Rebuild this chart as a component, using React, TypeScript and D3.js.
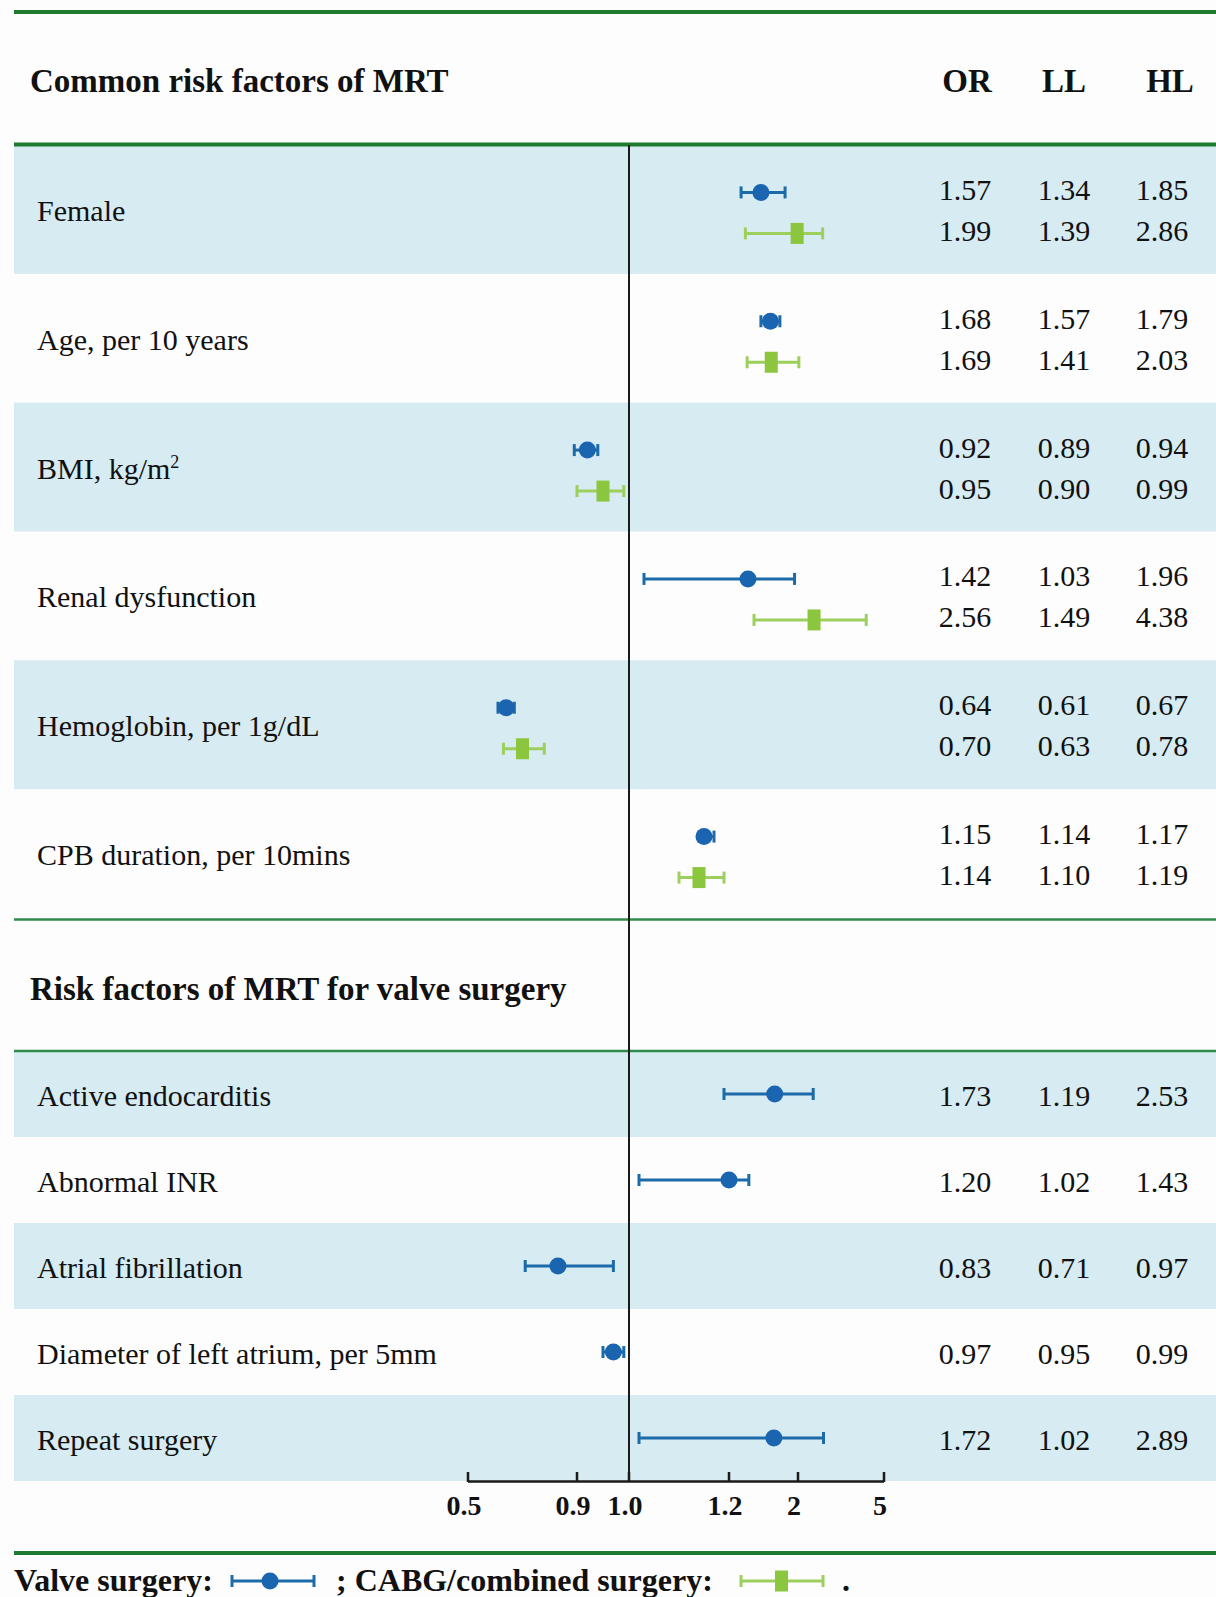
import React from "react";
import * as d3 from "d3";

// ---------- data ----------
const commonFactors = [
  "Female",
  "Age, per 10 years",
  "BMI, kg/m|2",
  "Renal dysfunction",
  "Hemoglobin, per 1g/dL",
  "CPB duration, per 10mins",
];
const valveOR = [1.57, 1.68, 0.92, 1.42, 0.64, 1.15];
const valveLL = [1.34, 1.57, 0.89, 1.03, 0.61, 1.14];
const valveHL = [1.85, 1.79, 0.94, 1.96, 0.67, 1.17];
const cabgOR = [1.99, 1.69, 0.95, 2.56, 0.7, 1.14];
const cabgLL = [1.39, 1.41, 0.9, 1.49, 0.63, 1.1];
const cabgHL = [2.86, 2.03, 0.99, 4.38, 0.78, 1.19];

const valveFactors = [
  "Active endocarditis",
  "Abnormal INR",
  "Atrial fibrillation",
  "Diameter of left atrium, per 5mm",
  "Repeat surgery",
];
const valveOnlyOR = [1.73, 1.2, 0.83, 0.97, 1.72];
const valveOnlyLL = [1.19, 1.02, 0.71, 0.95, 1.02];
const valveOnlyHL = [2.53, 1.43, 0.97, 0.99, 2.89];

const axisTicks = [0.5, 0.9, 1.0, 1.2, 2, 5];
const axisTickLabels = ["0.5", "0.9", "1.0", "1.2", "2", "5"];
const columnHeaders = ["OR", "LL", "HL"];

// ---------- styles ----------
const W = 1216;
const H = 1597;
const FONT = "'Liberation Serif', 'Times New Roman', serif";
const BAND = "#d6ebf2";
const DARKGREEN = "#1d7a2e";
const MIDGREEN = "#2f8a4c";
const BLUE = "#1a64b0";
const BLUELINE = "#1c6aa8";
const GREEN = "#8cc63f";
const GREENLINE = "#9ccf5c";

const fmt = d3.format(".2f");

const x = d3
  .scaleLinear()
  .domain(axisTicks)
  .range([468, 577, 629, 729, 798, 884]);

const yCommon = d3.scaleBand<string>().domain(commonFactors).range([145, 918]).padding(0);
const yValve = d3.scaleBand<string>().domain(valveFactors).range([1051, 1481]).padding(0);

const valX = [965, 1064, 1162];

function ErrorBar({ lo, hi, mid, y, kind }: { lo: number; hi: number; mid: number; y: number; kind: "valve" | "cabg" }) {
  const lc = kind === "valve" ? BLUELINE : GREENLINE;
  const x0 = x(lo);
  const x1 = x(hi);
  const xm = x(mid);
  return (
    <g>
      <line x1={x0} x2={x1} y1={y} y2={y} stroke={lc} strokeWidth={3} />
      <line x1={x0} x2={x0} y1={y - 6} y2={y + 6} stroke={lc} strokeWidth={3} />
      <line x1={x1} x2={x1} y1={y - 6} y2={y + 6} stroke={lc} strokeWidth={3} />
      {kind === "valve" ? (
        <circle cx={xm} cy={y} r={8.5} fill={BLUE} />
      ) : (
        <rect x={xm - 6.5} y={y - 10.5} width={13} height={21} fill={GREEN} />
      )}
    </g>
  );
}

function Label({ text, x0, y }: { text: string; x0: number; y: number }) {
  const parts = text.split("|");
  return (
    <text x={x0} y={y} dy="0.35em" fontFamily={FONT} fontSize={30} fill="#111">
      {parts[0]}
      {parts[1] ? (
        <tspan fontSize={18} dy={-11}>
          {parts[1]}
        </tspan>
      ) : null}
    </text>
  );
}

export default function App() {
  const bw = yCommon.bandwidth();
  const bv = yValve.bandwidth();
  return (
    <svg
      width={W}
      height={H}
      style={{ position: "absolute", left: 0, top: 0, display: "block", background: "#fdfdfd" }}
    >
      <rect x={0} y={0} width={W} height={H} fill="#fdfdfd" />

      {/* bands */}
      {commonFactors.map((f, i) =>
        i % 2 === 0 ? <rect key={f} x={14} y={yCommon(f)} width={W - 14} height={bw} fill={BAND} /> : null
      )}
      {valveFactors.map((f, i) =>
        i % 2 === 0 ? <rect key={f} x={14} y={yValve(f)} width={W - 14} height={bv} fill={BAND} /> : null
      )}

      {/* green rules */}
      <line x1={14} x2={W} y1={12} y2={12} stroke={DARKGREEN} strokeWidth={4} />
      <line x1={14} x2={W} y1={144.5} y2={144.5} stroke={DARKGREEN} strokeWidth={4} />
      <line x1={14} x2={W} y1={919.5} y2={919.5} stroke={MIDGREEN} strokeWidth={2.5} />
      <line x1={14} x2={W} y1={1051} y2={1051} stroke={MIDGREEN} strokeWidth={2.5} />
      <line x1={14} x2={W} y1={1553} y2={1553} stroke={DARKGREEN} strokeWidth={4} />

      {/* headers */}
      <text x={30} y={80} dy="0.35em" fontFamily={FONT} fontSize={33} fontWeight="bold" fill="#111">
        Common risk factors of MRT
      </text>
      {columnHeaders.map((h, i) => (
        <text
          key={h}
          x={[967, 1064, 1170][i]}
          y={80}
          dy="0.35em"
          textAnchor="middle"
          fontFamily={FONT}
          fontSize={33}
          fontWeight="bold"
          fill="#111"
        >
          {h}
        </text>
      ))}
      <text x={30} y={988} dy="0.35em" fontFamily={FONT} fontSize={33} fontWeight="bold" fill="#111">
        Risk factors of MRT for valve surgery
      </text>

      {/* vertical reference line at OR = 1 */}
      <line x1={x(1)} x2={x(1)} y1={145} y2={1482} stroke="#1a1a1a" strokeWidth={2} />

      {/* common rows */}
      {commonFactors.map((f, i) => {
        const c = (yCommon(f) as number) + bw / 2;
        const yb = c - 17;
        const yg = c + 24;
        const rowsV = [valveOR[i], valveLL[i], valveHL[i]];
        const rowsC = [cabgOR[i], cabgLL[i], cabgHL[i]];
        return (
          <g key={f}>
            <Label text={f} x0={37} y={c + 1} />
            <ErrorBar lo={valveLL[i]} hi={valveHL[i]} mid={valveOR[i]} y={yb} kind="valve" />
            <ErrorBar lo={cabgLL[i]} hi={cabgHL[i]} mid={cabgOR[i]} y={yg} kind="cabg" />
            {rowsV.map((v, j) => (
              <text key={"v" + j} x={valX[j]} y={c - 20} dy="0.35em" textAnchor="middle" fontFamily={FONT} fontSize={30} fill="#111">
                {fmt(v)}
              </text>
            ))}
            {rowsC.map((v, j) => (
              <text key={"c" + j} x={valX[j]} y={c + 21} dy="0.35em" textAnchor="middle" fontFamily={FONT} fontSize={30} fill="#111">
                {fmt(v)}
              </text>
            ))}
          </g>
        );
      })}

      {/* valve-only rows */}
      {valveFactors.map((f, i) => {
        const c = (yValve(f) as number) + bv / 2;
        const rows = [valveOnlyOR[i], valveOnlyLL[i], valveOnlyHL[i]];
        return (
          <g key={f}>
            <Label text={f} x0={37} y={c + 1} />
            <ErrorBar lo={valveOnlyLL[i]} hi={valveOnlyHL[i]} mid={valveOnlyOR[i]} y={c} kind="valve" />
            {rows.map((v, j) => (
              <text key={j} x={valX[j]} y={c + 1} dy="0.35em" textAnchor="middle" fontFamily={FONT} fontSize={30} fill="#111">
                {fmt(v)}
              </text>
            ))}
          </g>
        );
      })}

      {/* axis */}
      <g>
        <line x1={x(axisTicks[0])} x2={x(axisTicks[axisTicks.length - 1])} y1={1481.5} y2={1481.5} stroke="#1a1a1a" strokeWidth={2.5} />
        {axisTicks.map((t, i) => (
          <g key={t}>
            <line x1={x(t)} x2={x(t)} y1={1472} y2={1482} stroke="#1a1a1a" strokeWidth={2.5} />
            <text
              x={x(t) - 4}
              y={1505}
              dy="0.35em"
              textAnchor="middle"
              fontFamily={FONT}
              fontSize={28}
              fontWeight="bold"
              fill="#111"
            >
              {axisTickLabels[i]}
            </text>
          </g>
        ))}
      </g>

      {/* legend */}
      <g fontFamily={FONT} fontSize={32} fontWeight="bold" fill="#111">
        <text x={14} y={1580} dy="0.35em">Valve surgery:</text>
        <line x1={232} x2={314} y1={1581} y2={1581} stroke={BLUELINE} strokeWidth={3} />
        <line x1={232} x2={232} y1={1575} y2={1587} stroke={BLUELINE} strokeWidth={3} />
        <line x1={314} x2={314} y1={1575} y2={1587} stroke={BLUELINE} strokeWidth={3} />
        <circle cx={270} cy={1581} r={8.5} fill={BLUE} />
        <text x={336} y={1580} dy="0.35em">; CABG/combined surgery:</text>
        <line x1={741} x2={823} y1={1581} y2={1581} stroke={GREENLINE} strokeWidth={3} />
        <line x1={741} x2={741} y1={1575} y2={1587} stroke={GREENLINE} strokeWidth={3} />
        <line x1={823} x2={823} y1={1575} y2={1587} stroke={GREENLINE} strokeWidth={3} />
        <rect x={775} y={1570.5} width={13} height={21} fill={GREEN} />
        <text x={842} y={1580} dy="0.35em">.</text>
      </g>
    </svg>
  );
}
